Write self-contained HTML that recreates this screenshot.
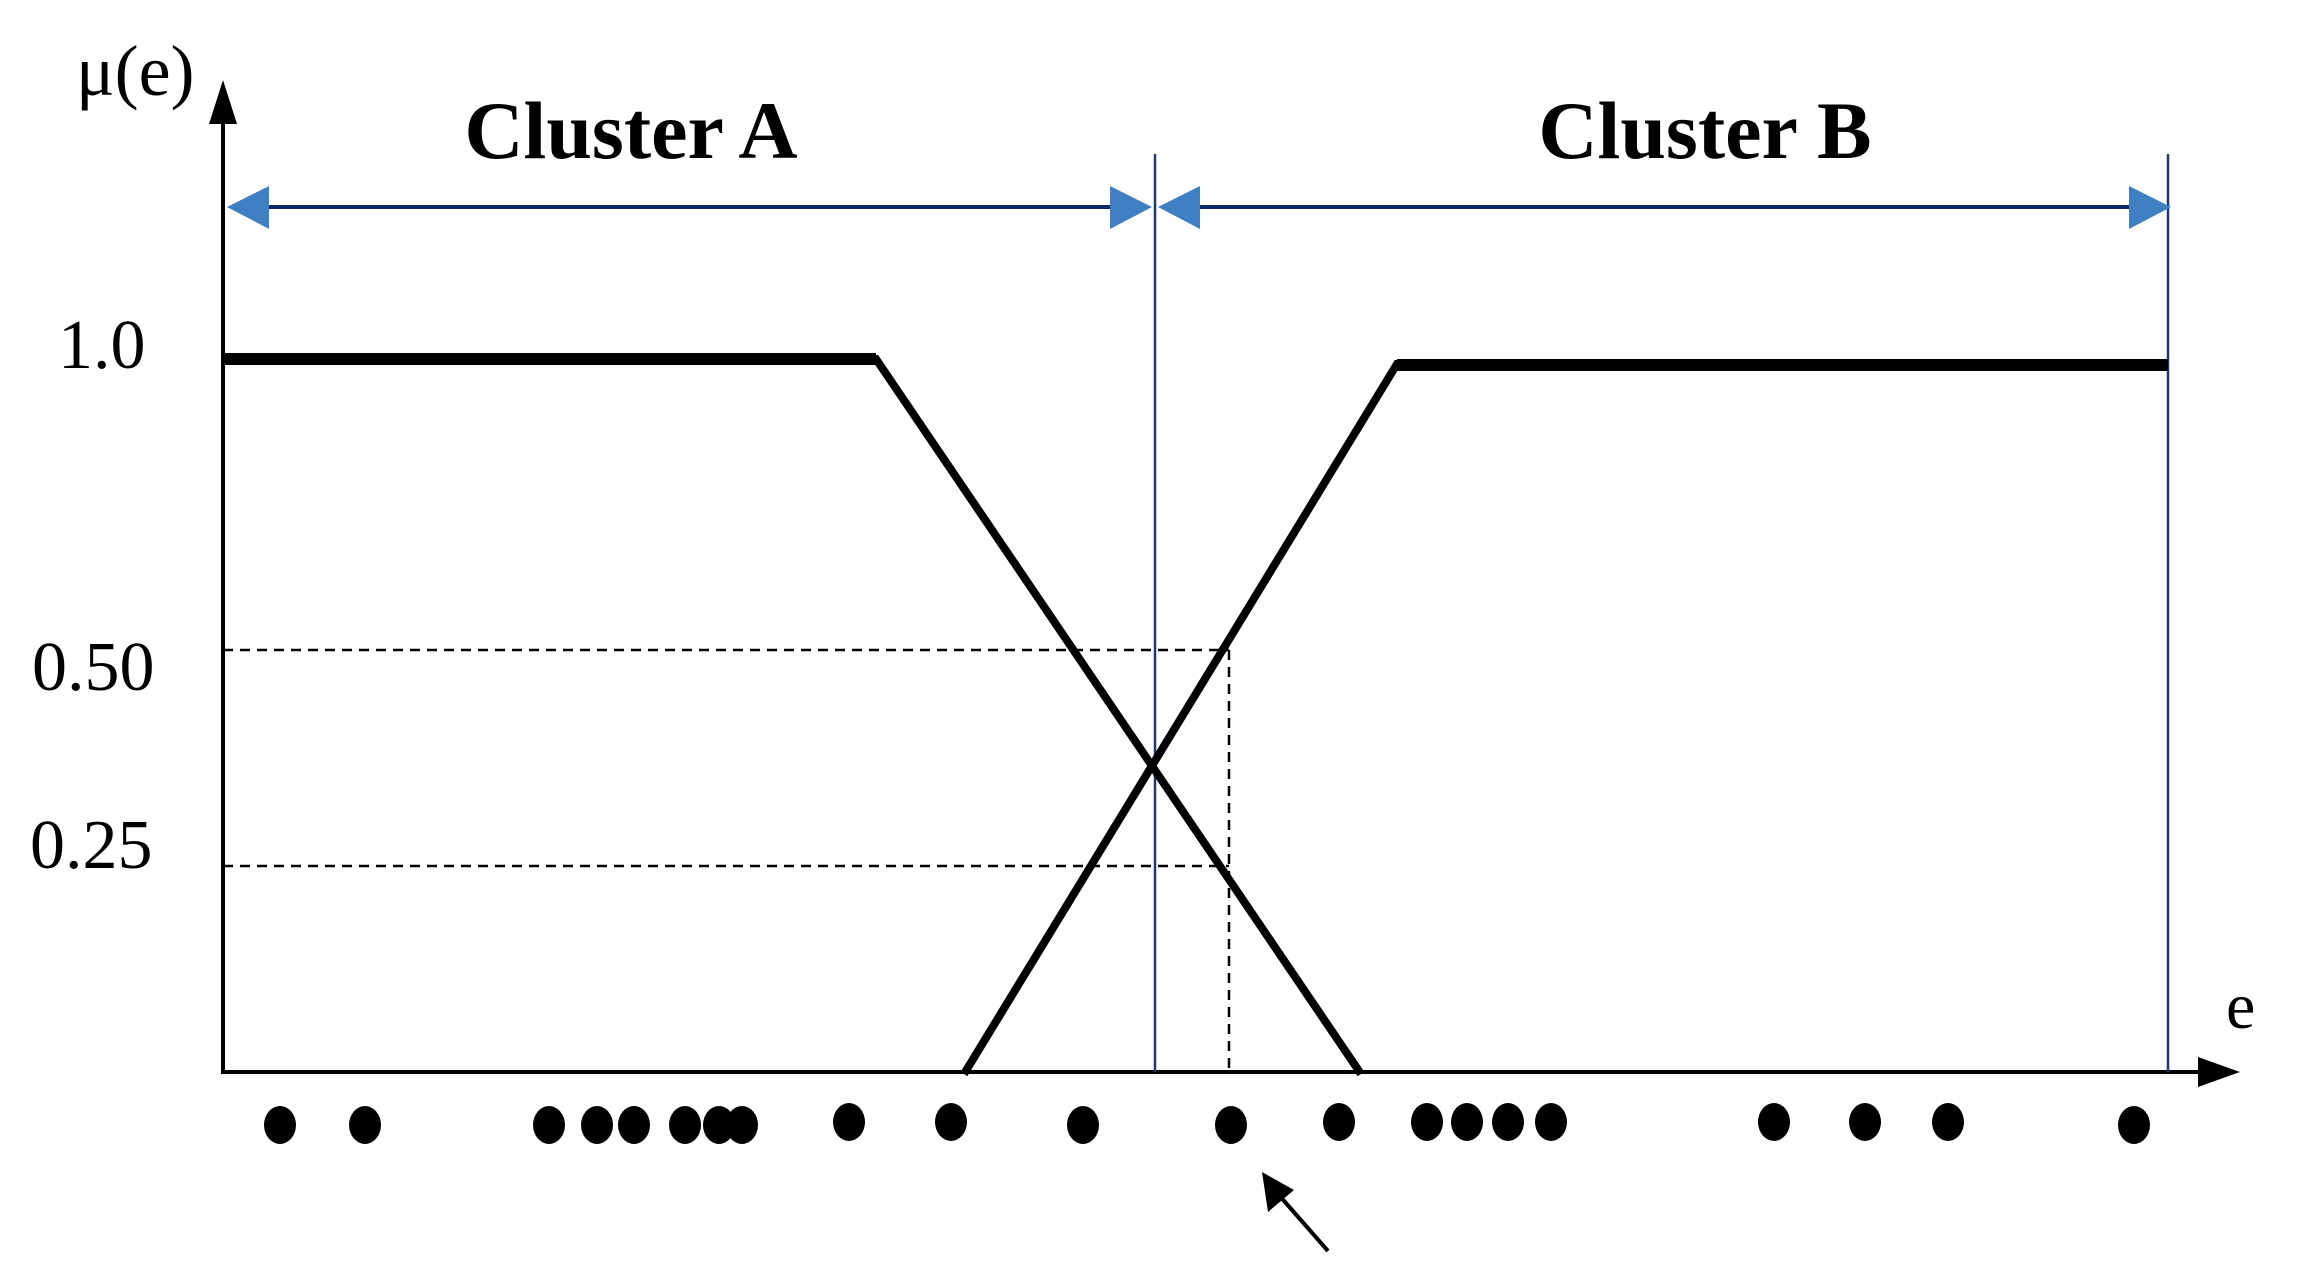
<!DOCTYPE html>
<html><head><meta charset="utf-8"><style>html,body{margin:0;padding:0;background:#fff}svg{display:block}</style></head>
<body>
<svg width="2299" height="1276" viewBox="0 0 2299 1276" xmlns="http://www.w3.org/2000/svg">
<g font-family="Liberation Serif, serif" fill="#000">
<text x="76" y="95" font-size="72">μ(e)</text>
<text x="631" y="158" font-size="82" font-weight="bold" text-anchor="middle">Cluster A</text>
<text x="1705" y="158" font-size="82" font-weight="bold" text-anchor="middle">Cluster B</text>
<text x="58" y="368" font-size="70">1.0</text>
<text x="32" y="690" font-size="70">0.50</text>
<text x="30" y="868" font-size="70">0.25</text>
<text x="2226" y="1028" font-size="66">e</text>
</g>
<line x1="223" y1="1072" x2="223" y2="120" stroke="#000" stroke-width="4"/>
<polygon points="223,80 209,124 237,124" fill="#000"/>
<line x1="221" y1="1072" x2="2205" y2="1072" stroke="#000" stroke-width="4"/>
<polygon points="2240,1072 2198,1057 2198,1087" fill="#000"/>
<line x1="1155" y1="154" x2="1155" y2="1072" stroke="#1f3a6e" stroke-width="2.5"/>
<line x1="2168" y1="154" x2="2168" y2="1072" stroke="#1f3a6e" stroke-width="2.5"/>
<line x1="250" y1="207" x2="1130" y2="207" stroke="#0b2a66" stroke-width="4"/>
<line x1="1180" y1="207" x2="2145" y2="207" stroke="#0b2a66" stroke-width="4"/>
<g fill="#3f7fc4">
<polygon points="227,207 269,186 269,229"/>
<polygon points="1152,207 1110,186 1110,229"/>
<polygon points="1158,207 1200,186 1200,229"/>
<polygon points="2171,207 2129,186 2129,229"/>
</g>
<g stroke="#000" stroke-width="2.5" stroke-dasharray="10,7" fill="none">
<line x1="223" y1="650" x2="1229" y2="650"/>
<line x1="223" y1="866" x2="1229" y2="866"/>
<line x1="1229" y1="650" x2="1229" y2="1072"/>
</g>
<polyline points="223,359 876,359 1361,1074" fill="none" stroke="#000" stroke-width="8"/>
<polyline points="964,1074 1397,364 2168,364" fill="none" stroke="#000" stroke-width="8"/>
<line x1="223" y1="359" x2="876" y2="359" stroke="#000" stroke-width="12"/>
<line x1="1397" y1="365" x2="2168" y2="365" stroke="#000" stroke-width="12"/>
<g fill="#000">
<ellipse cx="280" cy="1125" rx="16" ry="19"/>
<ellipse cx="365" cy="1125" rx="16" ry="19"/>
<ellipse cx="549" cy="1125" rx="16" ry="19"/>
<ellipse cx="597" cy="1125" rx="16" ry="19"/>
<ellipse cx="634" cy="1125" rx="16" ry="19"/>
<ellipse cx="685" cy="1125" rx="16" ry="19"/>
<ellipse cx="719" cy="1125" rx="16" ry="19"/>
<ellipse cx="742" cy="1125" rx="16" ry="19"/>
<ellipse cx="849" cy="1122" rx="16" ry="19"/>
<ellipse cx="951" cy="1122" rx="16" ry="19"/>
<ellipse cx="1083" cy="1125" rx="16" ry="19"/>
<ellipse cx="1231" cy="1125" rx="16" ry="19"/>
<ellipse cx="1339" cy="1122" rx="16" ry="19"/>
<ellipse cx="1427" cy="1122" rx="16" ry="19"/>
<ellipse cx="1467" cy="1122" rx="16" ry="19"/>
<ellipse cx="1508" cy="1122" rx="16" ry="19"/>
<ellipse cx="1551" cy="1122" rx="16" ry="19"/>
<ellipse cx="1774" cy="1122" rx="16" ry="19"/>
<ellipse cx="1865" cy="1122" rx="16" ry="19"/>
<ellipse cx="1948" cy="1122" rx="16" ry="19"/>
<ellipse cx="2134" cy="1125" rx="16" ry="19"/>
</g>
<line x1="1328" y1="1251" x2="1278" y2="1194" stroke="#000" stroke-width="4"/>
<polygon points="1262,1172 1268,1212 1294,1190" fill="#000"/>
</svg>
</body></html>
